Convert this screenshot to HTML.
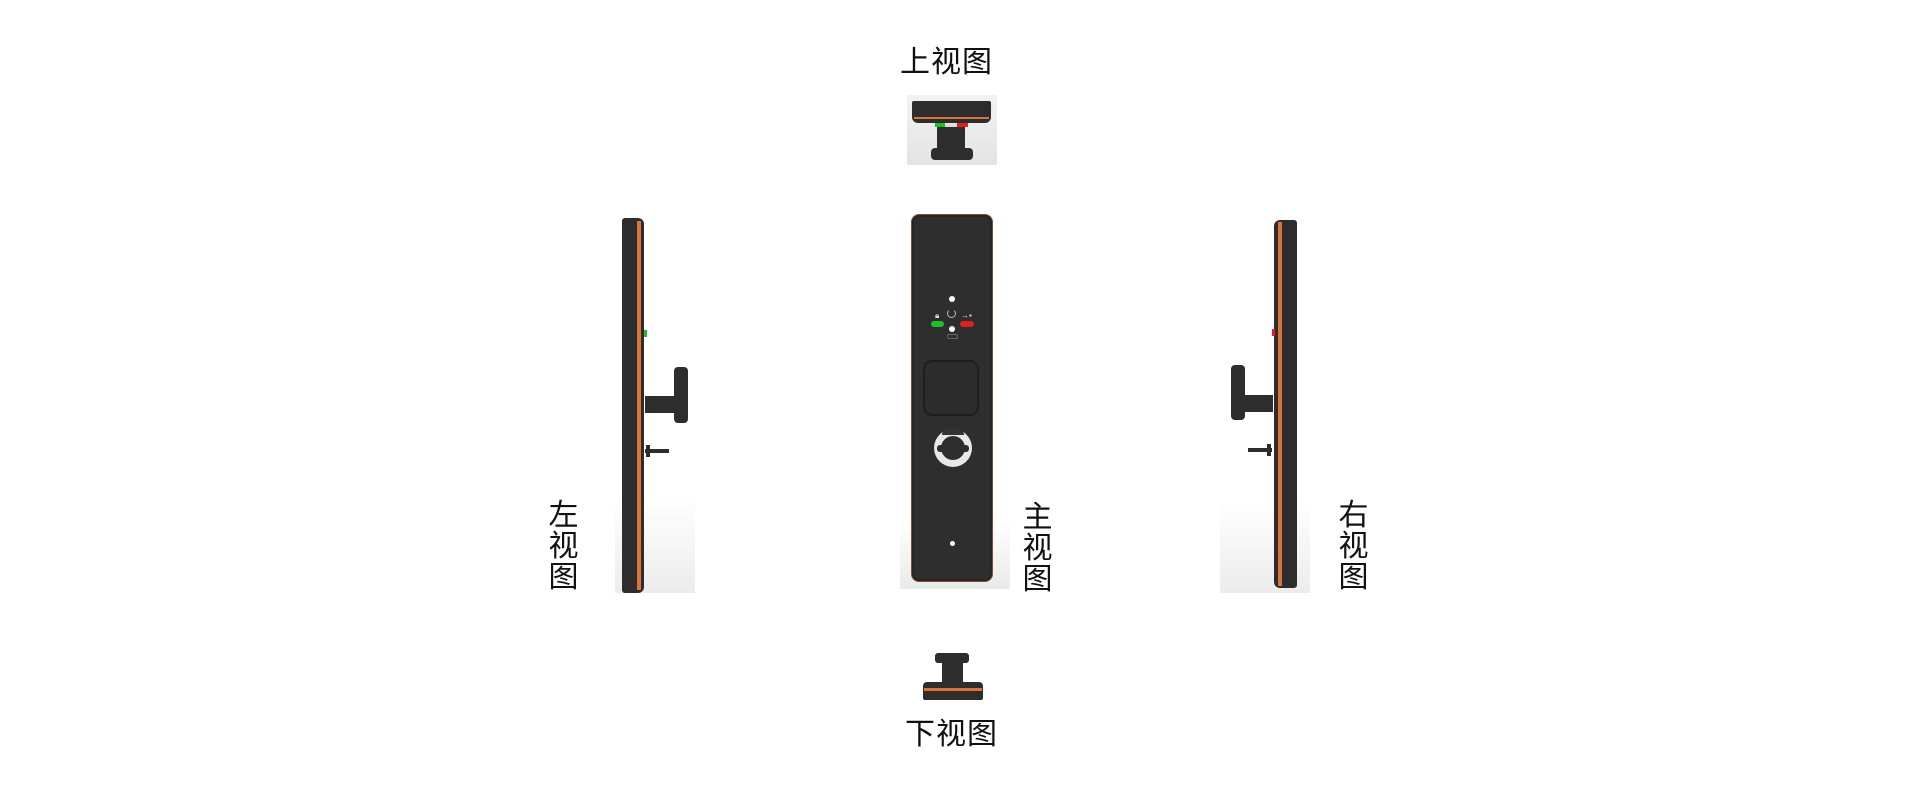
<!DOCTYPE html>
<html><head><meta charset="utf-8"><style>
html,body{margin:0;padding:0;background:#fff;}
body{width:1920px;height:800px;position:relative;overflow:hidden;font-family:"Liberation Sans","Noto Sans CJK SC",sans-serif;}
.a{position:absolute;}
.lbl{position:absolute;font-size:30px;line-height:30px;color:#111;}
.v{width:31px;text-align:center;line-height:31px;}
.dk{background:#2d2d2d;}
</style></head><body>

<!-- top view -->
<div class="lbl" style="left:900px;top:48px;letter-spacing:1px">上视图</div>
<div class="a" style="left:907px;top:95px;width:90px;height:70px;background:linear-gradient(#f2f2f2,#e4e4e4)"></div>
<div class="a dk" style="left:912px;top:101px;width:79px;height:22px;border-radius:2px 2px 6px 6px"></div>
<div class="a" style="left:914px;top:117px;width:75px;height:2px;background:#d8733a"></div>
<div class="a" style="left:935px;top:123px;width:10px;height:4px;background:#1fbf2a"></div>
<div class="a" style="left:945px;top:124px;width:12px;height:3px;background:#ddd"></div>
<div class="a" style="left:957px;top:123px;width:11px;height:4px;background:#e02020"></div>
<div class="a dk" style="left:937px;top:127px;width:28px;height:23px"></div>
<div class="a dk" style="left:931px;top:148px;width:42px;height:12px;border-radius:4px"></div>

<!-- main view -->
<div class="a" style="left:900px;top:520px;width:110px;height:69px;background:linear-gradient(#fff,#eaeaea)"></div>
<div class="a" style="left:911px;top:214px;width:82px;height:368px;background:#2e2e2e;border:1.5px solid #8a4a3a;border-radius:8px;box-sizing:border-box;box-shadow:inset 0 0 0 2px #262626"></div>
<div class="a" style="left:949px;top:296px;width:6px;height:6px;border-radius:50%;background:#fff"></div>
<div class="a" style="left:935px;top:311px;font-size:8px;color:#ddd">🔒︎</div>
<div class="a" style="left:947px;top:309px;width:7px;height:7px;border:1.5px solid #bbb;border-radius:50%;border-top-color:transparent"></div>
<div class="a" style="left:961px;top:311px;font-size:8px;color:#ddd">→▪</div>
<div class="a" style="left:931px;top:321px;width:13px;height:6px;border-radius:3px;background:#1fbf2a"></div>
<div class="a" style="left:960px;top:321px;width:14px;height:6px;border-radius:3px;background:#e02020"></div>
<div class="a" style="left:949px;top:326px;width:6px;height:6px;border-radius:50%;background:#fff"></div>
<div class="a" style="left:947px;top:334px;width:9px;height:3px;border:1px solid #666;border-radius:2px"></div>
<div class="a" style="left:923px;top:360px;width:56px;height:56px;border:2px solid #1e1e1e;border-radius:9px;background:#2c2c2c;box-sizing:border-box"></div>
<div class="a" style="left:934px;top:429px;width:38px;height:38px;border-radius:50%;background:#e8e8e8"></div>
<div class="a" style="left:941px;top:436px;width:24px;height:24px;border-radius:50%;background:#2d2d2d"></div>
<div class="a" style="left:937px;top:445px;width:32px;height:7px;border-radius:3px;background:#2d2d2d"></div>
<div class="a" style="left:942px;top:429px;width:22px;height:6px;border-radius:11px 11px 0 0;background:#333"></div>
<div class="a" style="left:950px;top:541px;width:5px;height:5px;border-radius:50%;background:#fff"></div>
<div class="lbl v" style="left:1022px;top:502px">主<br>视<br>图</div>

<!-- left view -->
<div class="a" style="left:615px;top:497px;width:80px;height:96px;background:linear-gradient(#fff,#ececec)"></div>
<div class="a dk" style="left:622px;top:218px;width:22px;height:375px;border-radius:3px 6px 6px 3px"></div>
<div class="a" style="left:637px;top:221px;width:4px;height:369px;background:#d8733a"></div>
<div class="a" style="left:644px;top:330px;width:3px;height:7px;background:#1fbf2a"></div>
<div class="a dk" style="left:645px;top:396px;width:32px;height:17px"></div>
<div class="a dk" style="left:674px;top:367px;width:14px;height:56px;border-radius:4px"></div>
<div class="a dk" style="left:645px;top:449px;width:24px;height:4px"></div>
<div class="a dk" style="left:646px;top:445px;width:4px;height:12px"></div>
<div class="lbl v" style="left:548px;top:500px">左<br>视<br>图</div>

<!-- right view -->
<div class="a" style="left:1220px;top:500px;width:90px;height:93px;background:linear-gradient(#fff,#ececec)"></div>
<div class="a dk" style="left:1274px;top:220px;width:23px;height:368px;border-radius:6px 3px 3px 6px"></div>
<div class="a" style="left:1278px;top:222px;width:4px;height:364px;background:#d8733a"></div>
<div class="a" style="left:1272px;top:329px;width:3px;height:7px;background:#e02020"></div>
<div class="a dk" style="left:1243px;top:395px;width:30px;height:17px"></div>
<div class="a dk" style="left:1231px;top:365px;width:14px;height:55px;border-radius:4px"></div>
<div class="a dk" style="left:1248px;top:448px;width:24px;height:4px"></div>
<div class="a dk" style="left:1267px;top:444px;width:4px;height:12px"></div>
<div class="lbl v" style="left:1338px;top:500px">右<br>视<br>图</div>

<!-- bottom view -->
<div class="a dk" style="left:935px;top:653px;width:34px;height:10px;border-radius:3px"></div>
<div class="a dk" style="left:942px;top:662px;width:21px;height:21px"></div>
<div class="a dk" style="left:923px;top:682px;width:60px;height:18px;border-radius:4px 4px 2px 2px"></div>
<div class="a" style="left:924px;top:688px;width:58px;height:3px;background:#d8733a"></div>
<div class="lbl" style="left:905px;top:720px;letter-spacing:1px">下视图</div>

</body></html>
